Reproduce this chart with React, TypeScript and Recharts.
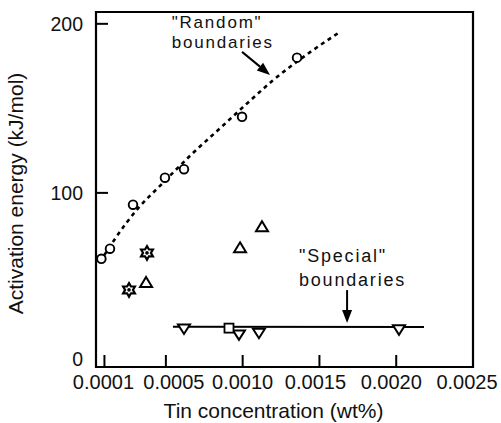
import React from "react";
import {
  ComposedChart,
  XAxis,
  YAxis,
  Line,
  Scatter,
  ReferenceArea,
  ReferenceLine,
  ReferenceDot,
} from "recharts";

// "Random" boundaries (open circles) and the dashed trend through them
const randomPoints = [
  { x: 0.00008, y: 61 },
  { x: 0.000136, y: 67 },
  { x: 0.000286, y: 93 },
  { x: 0.000494, y: 109 },
  { x: 0.000618, y: 114 },
  { x: 0.000996, y: 145 },
  { x: 0.001354, y: 180 },
];
const randomCurve = [
  { x: 0.00007, y: 59 },
  { x: 0.00017, y: 73 },
  { x: 0.00032, y: 91 },
  { x: 0.00046, y: 104 },
  { x: 0.00067, y: 123 },
  { x: 0.00085, y: 138 },
  { x: 0.00103, y: 153 },
  { x: 0.00119, y: 166 },
  { x: 0.00142, y: 182 },
  { x: 0.00163, y: 195 },
];

const starPoints = [
  { x: 0.00026, y: 42.6 },
  { x: 0.000377, y: 64.5 },
];
const upTriangles = [
  { x: 0.000371, y: 47 },
  { x: 0.000983, y: 67.5 },
  { x: 0.001126, y: 80 },
];

// "Special" boundaries
const downTriangles = [
  { x: 0.000618, y: 19.5 },
  { x: 0.000976, y: 16 },
  { x: 0.001106, y: 17 },
  { x: 0.002018, y: 19 },
];
const squarePoints = [{ x: 0.000911, y: 20 }];
const specialLine = [
  { x: 0.000546, y: 20.8 },
  { x: 0.002181, y: 20.6 },
];

const xTicks = [0.0001, 0.0005, 0.001, 0.0015, 0.002, 0.0025];
const xTickLabels = ["0.0001", "0.0005", "0.0010", "0.0015", "0.0020", "0.0025"];
// the scanned labels don't sit exactly under their ticks
const xTickShift = [-1, 8, 0, -4, -5, -6];
const yTicks = [0, 100, 200];
const xDomain = [0.000045, 0.0025];
const yDomain = [-3, 207];

const FONT = "'Liberation Sans', Arial, Helvetica, sans-serif";

const XTick = (props: any) => {
  const { x, y, payload } = props;
  const i = xTicks.indexOf(payload.value);
  return (
    <g>
      {payload.value !== 0.0025 && (
        <line x1={x} y1={y} x2={x} y2={y - 12} stroke="#000" strokeWidth={2} />
      )}
      <text x={x + (xTickShift[i] ?? 0)} y={y + 22} textAnchor="middle" fontFamily={FONT} fontSize={20} fill="#111">
        {xTickLabels[i] ?? payload.value}
      </text>
    </g>
  );
};

const YTick = (props: any) => {
  const { x, y, payload } = props;
  return (
    <g>
      {payload.value !== 0 && (
        <line x1={x} y1={y} x2={x + 12} y2={y} stroke="#000" strokeWidth={2} />
      )}
      <text
        x={x - 13}
        y={y + (payload.value === 0 ? 4.5 : 7)}
        textAnchor="end"
        fontFamily={FONT}
        fontSize={19.5}
        fill="#111"
      >
        {payload.value}
      </text>
    </g>
  );
};

const OpenCircle = (p: any) => (
  <circle cx={p.cx} cy={p.cy} r={4.3} fill="#fff" stroke="#000" strokeWidth={1.9} />
);

const Hexagram = (p: any) => {
  const R = 6.8;
  const r = R / Math.sqrt(3);
  const pts: string[] = [];
  for (let k = 0; k < 12; k++) {
    const ang = (Math.PI / 6) * k - Math.PI / 2;
    const rad = k % 2 === 0 ? R : r;
    pts.push(`${p.cx + rad * Math.cos(ang)},${p.cy + rad * Math.sin(ang)}`);
  }
  return (
    <g>
      <polygon points={pts.join(" ")} fill="#fff" stroke="#000" strokeWidth={2.2} />
      <circle cx={p.cx} cy={p.cy} r={1.8} fill="#000" />
    </g>
  );
};

const TriUp = (p: any) => (
  <polygon
    points={`${p.cx},${p.cy - 5.5} ${p.cx + 6},${p.cy + 4.5} ${p.cx - 6},${p.cy + 4.5}`}
    fill="#fff"
    stroke="#000"
    strokeWidth={2}
  />
);

const TriDown = (p: any) => (
  <polygon
    points={`${p.cx - 6},${p.cy - 4.5} ${p.cx + 6},${p.cy - 4.5} ${p.cx},${p.cy + 5}`}
    fill="#fff"
    stroke="#000"
    strokeWidth={2}
  />
);

const Square = (p: any) => (
  <rect x={p.cx - 4.5} y={p.cy - 4.5} width={9} height={9} fill="#fff" stroke="#000" strokeWidth={1.8} />
);

const Arrow = (p: any) => {
  const { x1, y1, x2, y2 } = p;
  const a = Math.atan2(y2 - y1, x2 - x1);
  const L = 13;
  const W = 5;
  const bx = x2 - L * Math.cos(a);
  const by = y2 - L * Math.sin(a);
  const px = -Math.sin(a) * W;
  const py = Math.cos(a) * W;
  return (
    <g>
      <line x1={x1} y1={y1} x2={bx} y2={by} stroke="#000" strokeWidth={2} />
      <polygon points={`${x2},${y2} ${bx + px},${by + py} ${bx - px},${by - py}`} fill="#000" />
    </g>
  );
};

const note = (lines: string[], gap: number, size: number) => (p: any) => (
  <text x={p.cx} y={p.cy} fontFamily={FONT} fontSize={size} letterSpacing={1.8} fill="#111">
    {lines.map((t, i) => (
      <tspan key={i} x={p.cx} dy={i === 0 ? 0 : gap}>
        {t}
      </tspan>
    ))}
  </text>
);

export default function App() {
  return (
    <div style={{ position: "absolute", left: 0, top: 0, width: 501, height: 423, background: "#fff" }}>
      <ComposedChart width={501} height={423} margin={{ top: 12, right: 28, bottom: 6, left: 6 }}>
        <XAxis
          type="number"
          dataKey="x"
          domain={xDomain}
          ticks={xTicks}
          allowDataOverflow
          axisLine={false}
          tickLine={false}
          tickSize={0}
          tickMargin={0}
          height={50}
          tick={XTick}
          interval={0}
          label={{
            content: ({ viewBox }: any) => (
              <text
                x={viewBox.x + viewBox.width / 2 - 11}
                y={viewBox.y + 51}
                textAnchor="middle"
                fontFamily={FONT}
                fontSize={21}
                fill="#111"
              >
                Tin concentration (wt%)
              </text>
            ),
          }}
        />
        <YAxis
          type="number"
          dataKey="y"
          domain={yDomain}
          ticks={yTicks}
          allowDataOverflow
          axisLine={false}
          tickLine={false}
          tickSize={0}
          tickMargin={0}
          width={90}
          tick={YTick}
          interval={0}
          label={{
            content: ({ viewBox }: any) => {
              const cx = 23;
              const cy = viewBox.y + viewBox.height / 2 + 4;
              return (
                <text
                  x={cx}
                  y={cy}
                  transform={`rotate(-90 ${cx} ${cy})`}
                  textAnchor="middle"
                  fontFamily={FONT}
                  fontSize={21}
                  fill="#111"
                >
                  Activation energy (kJ/mol)
                </text>
              );
            },
          }}
        />
        <ReferenceArea
          x1={xDomain[0]}
          x2={xDomain[1]}
          y1={yDomain[0]}
          y2={yDomain[1]}
          fill="none"
          stroke="#000"
          strokeWidth={2.2}
          ifOverflow="visible"
        />
        <Line
          data={randomCurve}
          dataKey="y"
          type="monotone"
          stroke="#000"
          strokeWidth={2.6}
          strokeDasharray="4 4"
          dot={false}
          activeDot={false}
          isAnimationActive={false}
        />
        <Line
          data={specialLine}
          dataKey="y"
          type="linear"
          stroke="#000"
          strokeWidth={2}
          dot={false}
          activeDot={false}
          isAnimationActive={false}
        />
        <Scatter data={randomPoints} dataKey="y" shape={OpenCircle} isAnimationActive={false} />
        <Scatter data={starPoints} dataKey="y" shape={Hexagram} isAnimationActive={false} />
        <Scatter data={upTriangles} dataKey="y" shape={TriUp} isAnimationActive={false} />
        <Scatter data={downTriangles} dataKey="y" shape={TriDown} isAnimationActive={false} />
        <Scatter data={squarePoints} dataKey="y" shape={Square} isAnimationActive={false} />

        <ReferenceLine
          segment={[
            { x: 0.000996, y: 183.4 },
            { x: 0.001178, y: 169.8 },
          ]}
          shape={Arrow}
          ifOverflow="visible"
        />
        <ReferenceLine
          segment={[
            { x: 0.00168, y: 42.5 },
            { x: 0.00168, y: 23 },
          ]}
          shape={Arrow}
          ifOverflow="visible"
        />
        <ReferenceDot
          x={0.000538}
          y={197.5}
          r={0}
          ifOverflow="visible"
          shape={note(['"Random"', "boundaries"], 19.5, 17)}
        />
        <ReferenceDot
          x={0.001367}
          y={59}
          r={0}
          ifOverflow="visible"
          shape={note(['"Special"', "boundaries"], 24, 18)}
        />
      </ComposedChart>
    </div>
  );
}
